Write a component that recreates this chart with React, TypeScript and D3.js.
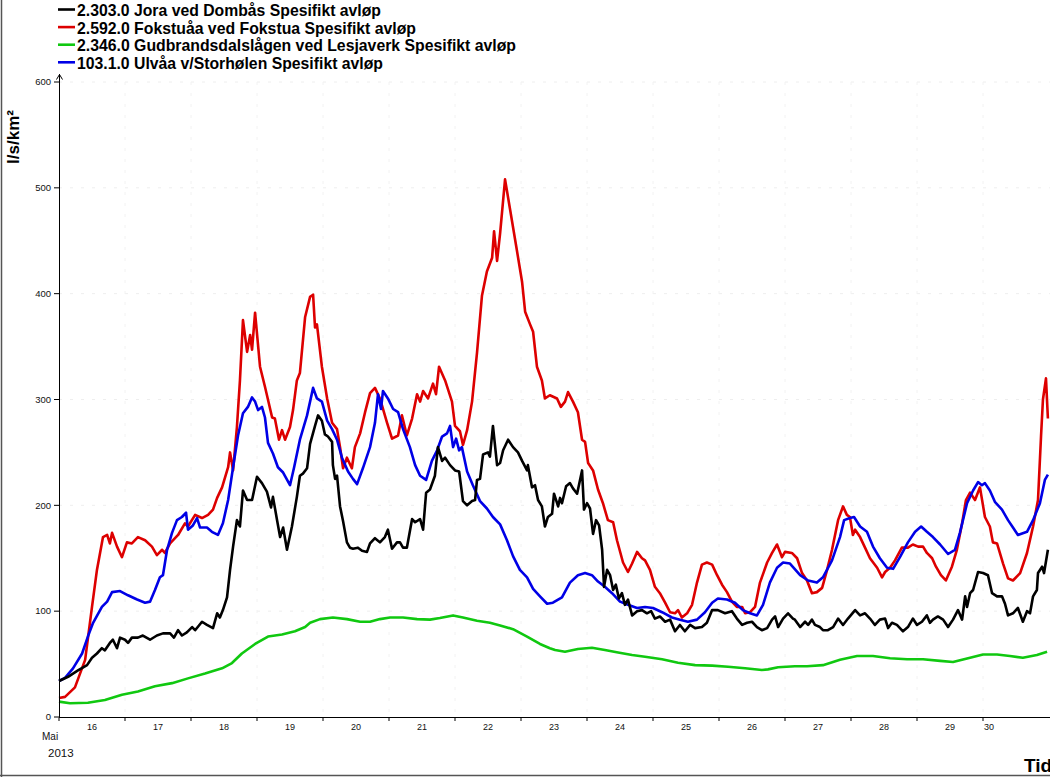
import React from "react";
import * as d3 from "d3";

// hours since 2013-05-16 00:00, value l/s/km²
const seriesNames = [
  "2.303.0 Jora ved Dombås Spesifikt avløp",
  "2.592.0 Fokstuåa ved Fokstua Spesifikt avløp",
  "2.346.0 Gudbrandsdalslågen ved Lesjaverk Spesifikt avløp",
  "103.1.0 Ulvåa v/Storhølen Spesifikt avløp",
];
const seriesColors = ["#000000", "#dd0000", "#10c810", "#0000e6"];

const jora: [number, number][] = [
  [0,34],[3.3,38],[6.9,44],[10.2,49],[12,56],[13.8,60],[15.6,65],[16.7,63],[18.5,70],[19.6,73],[21.1,65],[22.2,75],[24,73],[25.1,70],[26.5,75],[28.7,75],[30.5,77],[33.1,73],[35.6,77],[37.8,79],[40.4,79],[41.8,75],[43.3,82],[44.7,77],[46.5,80],[48.4,85],[49.5,82],[52,90],[53.8,87],[56,84],[57.5,98],[58.5,94],[59.6,101],[61.1,113],[62.2,139],[63.3,161],[64.7,186],[65.8,180],[66.9,214],[68.4,205],[70.2,205],[72,227],[73.8,221],[75.6,213],[77.1,198],[77.8,208],[79.3,186],[80.4,170],[81.5,179],[82.9,158],[84.7,180],[86.5,208],[87.6,228],[88.7,230],[90.2,235],[91.3,258],[93.1,275],[94.2,285],[95.6,280],[96.7,267],[97.8,265],[99.3,260],[99.6,238],[100.4,225],[101.1,228],[102.2,199],[103.3,185],[104.7,165],[105.8,160],[106.9,159],[108.7,160],[110.2,157],[112,156],[113.1,164],[114.9,169],[116.7,165],[118.5,170],[119.6,177],[121.1,159],[122.9,165],[124,165],[125.1,160],[126.5,160],[128.4,187],[129.5,184],[131.3,187],[132.4,177],[133.5,212],[134.9,215],[136.7,228],[137.8,255],[139.3,242],[140.4,245],[142.2,238],[144,233],[145.5,232],[146.9,204],[148.4,200],[150.2,204],[151.3,205],[152,224],[153.1,225],[154.2,248],[156,250],[156.7,246],[157.8,275],[159.3,238],[160.4,240],[161.5,252],[163.3,262],[165.1,255],[166.9,250],[168.4,242],[170.2,233],[170.5,238],[172,217],[173.1,219],[174.2,205],[175.6,199],[176.7,180],[177.8,189],[179.3,192],[180,211],[181.5,199],[182.2,207],[182.9,202],[184.4,218],[185.8,221],[186.9,216],[188.4,211],[190.2,233],[190.9,196],[192,202],[193.1,197],[194.2,173],[195.3,186],[196.4,181],[197.5,158],[198.2,123],[199.3,139],[200.4,134],[201.5,120],[202.5,125],[203.6,112],[204.7,117],[205.8,106],[206.9,111],[208.4,96],[210.2,100],[212,101],[213.8,98],[215.3,100],[216.7,93],[218.5,95],[220.4,90],[222.2,92],[224,81],[225.8,87],[227.6,81],[229.5,87],[231.3,84],[233.8,85],[235.6,89],[237.5,101],[239.6,101],[242.2,98],[244.7,100],[246.5,93],[248.4,87],[250.2,89],[252,90],[253.8,85],[255.6,82],[257.5,84],[259.3,92],[260.4,95],[261.5,85],[263.3,93],[265.1,98],[266.9,93],[267.6,92],[269.5,85],[271.3,90],[272.4,87],[273.8,92],[274.9,87],[276.7,85],[277.8,82],[279.6,82],[281.5,85],[283.3,93],[285.1,87],[286.9,93],[289.5,101],[291.3,96],[293.1,98],[294.9,93],[296.7,87],[298.5,92],[300.4,93],[301.5,84],[302.9,89],[304.7,87],[306.9,81],[308.7,85],[310.5,93],[312,87],[313.8,90],[315.6,96],[316.7,89],[317.8,92],[319.6,95],[321.5,92],[323.3,85],[325.1,92],[326.9,101],[328.4,92],[329.5,114],[330.2,104],[331.3,117],[332.4,120],[334.2,137],[336,136],[337.8,134],[339.3,117],[341.1,114],[342.9,114],[344,107],[345.1,96],[346.9,98],[348.7,103],[350.5,90],[352,100],[353.1,98],[354.2,114],[355.6,120],[356,136],[357.5,142],[358.2,136],[359.6,158],
];

const fokstua: [number, number][] = [
  [0,18],[2.2,19],[5.8,28],[9.5,54],[12,104],[13.8,139],[16,170],[17.5,172],[18.5,164],[19.3,174],[21.1,161],[22.9,151],[24.7,165],[26.5,164],[28.7,170],[31.3,167],[33.8,161],[35.6,153],[37.5,158],[38.5,155],[40.4,164],[43.3,172],[45.8,183],[46.9,180],[49.5,191],[52,188],[54.2,191],[56,196],[57.5,207],[59.3,217],[61.5,236],[62.2,250],[63.3,233],[64.7,274],[65.8,318],[66.9,375],[68.4,345],[69.5,361],[70.2,347],[71.3,382],[73.1,331],[74.9,312],[77.5,283],[78.5,282],[80,262],[81.1,271],[82.2,262],[84,274],[85.1,290],[86.5,318],[87.6,325],[89.5,378],[91.3,397],[92.4,399],[93.1,368],[93.8,371],[95.6,331],[97.5,301],[99.3,278],[101.1,272],[102.2,255],[103.3,235],[104.7,245],[106.5,235],[107.6,255],[109.5,268],[111.3,288],[113.1,306],[114.9,311],[116.7,301],[119.3,278],[121.1,263],[123.3,266],[124.7,285],[126.5,266],[128.4,282],[130.2,305],[131.3,298],[132.4,308],[134.2,301],[136,315],[137.1,305],[138.2,331],[140.4,318],[142.9,298],[144,275],[145.8,270],[146.9,257],[148.4,271],[150.2,298],[152,344],[153.8,398],[155.6,421],[157.5,434],[158.2,459],[159.3,431],[160.4,457],[162.2,508],[164,480],[166.5,441],[168.4,411],[169.5,383],[171.3,371],[172.4,364],[173.8,331],[175.6,318],[176.7,301],[178.5,304],[181.1,301],[182.5,293],[184,298],[185.1,307],[186.9,298],[188.7,288],[190.2,262],[191.3,260],[192.4,240],[194.2,233],[196,215],[197.8,202],[199.6,186],[201.5,184],[202.9,167],[205.1,146],[206.9,137],[208.4,145],[210.2,156],[212,150],[213.1,148],[214.9,139],[216.7,123],[218.5,117],[220.4,108],[222.2,99],[224,98],[225.1,101],[226.5,94],[228.4,98],[230.2,106],[232,127],[233.8,144],[235.6,146],[237.5,144],[239.3,134],[241.1,125],[242.9,118],[244.7,109],[246.5,104],[248.4,104],[249.5,98],[251.3,99],[253.1,104],[254.9,127],[257.5,146],[259.3,155],[261.1,163],[262.9,151],[264,156],[266.5,155],[268.4,150],[270.2,136],[272,129],[273.8,117],[275.6,118],[277.5,122],[279.3,139],[281.1,158],[283.3,186],[285.1,199],[286.5,191],[287.6,189],[288.7,172],[289.5,177],[291.3,170],[293.1,160],[294.9,150],[297.5,141],[299.3,132],[300.4,137],[302.2,141],[304,148],[306.5,160],[308.7,160],[310.5,163],[312.4,161],[314.2,161],[315.6,155],[317.5,150],[318.9,142],[320.7,134],[322.5,129],[324.7,142],[326.5,158],[328.4,183],[329.8,205],[331.3,212],[333.1,205],[334.9,217],[336.7,189],[338.5,180],[339.6,165],[341.1,164],[343.3,145],[345.1,131],[346.9,129],[349.5,136],[352,155],[354.2,180],[356,205],[357.1,265],[357.8,300],[358.9,320],[359.6,282],
];

const lesjaverk: [number, number][] = [
  [0,14.5],[4,13],[10.5,13.5],[16.7,16],[22.9,21],[28.7,24],[34.9,29],[41.1,32],[46.9,36.5],[53.1,41],[59.3,46],[62.9,51],[66.5,60],[71.3,69],[76,76],[81.1,78],[85.8,81],[89.5,85],[91.3,89],[94.9,92.5],[99.6,94],[104.7,92.5],[109.5,90],[113.1,90],[116.7,92.5],[120.4,94],[125.1,94],[130.2,92.5],[134.9,92],[138.5,93.5],[143.3,96],[146.9,94],[152,91],[156.7,89],[160.4,86.5],[165.1,83],[170.2,76],[174.9,69],[178.5,65],[180.4,63.3],[184,61.7],[188.7,64.3],[193.8,65.5],[198.5,63.3],[203.3,61],[208.4,58.6],[213.1,57],[219.3,54.5],[225.1,51.3],[231.3,49],[237.5,48.5],[243.3,47.5],[249.5,46],[255.6,44.4],[257.8,45],[261.5,47],[267.6,48],[272,48],[277.8,49],[284,54],[290.2,57.6],[296,57.6],[302.2,55.5],[308.4,54.5],[314.2,54.5],[320.4,53],[325.1,52],[331.3,56],[336,59],[341.1,59],[345.8,57.6],[350.5,56],[355.6,58.6],[359.3,61.7],
];

const ulvaa: [number, number][] = [
  [0,34],[2.2,37],[5.1,46],[8.4,60],[10.5,76],[12.4,89],[15.6,104],[17.5,109],[19.3,118],[22.2,119],[25.1,115],[28.4,111],[31.3,108],[33.1,109],[34.9,120],[36.7,132],[37.8,134],[39.3,158],[41.1,174],[42.9,186],[44.7,189],[46.2,193],[46.9,177],[48.7,181],[50.2,188],[51.3,179],[53.8,179],[55.6,175],[57.8,172],[59.6,183],[61.5,205],[63.3,236],[65.1,266],[66.9,287],[68.7,293],[70.2,302],[71.3,298],[72.4,290],[73.8,293],[74.9,283],[76,259],[77.8,249],[79.6,236],[81.5,231],[84,219],[85.5,236],[87.6,262],[90.2,285],[92.4,311],[93.8,301],[95.6,298],[97.5,280],[99.3,272],[101.1,262],[102.9,245],[105.1,232],[106.9,225],[108.4,220],[110.5,235],[113.1,255],[114.9,278],[116,305],[117.1,291],[117.8,308],[119.6,301],[121.5,291],[123.3,288],[125.1,272],[127.6,255],[129.5,238],[131.3,228],[133.5,224],[135.6,242],[137.5,252],[139.3,265],[141.1,268],[142.2,275],[143.3,255],[144.4,263],[145.5,252],[146.5,255],[148.4,232],[150.5,219],[153.1,204],[155.6,197],[157.8,189],[160.4,182],[162.9,167],[165.1,152],[167.6,139],[170.2,132],[172.4,121],[174.9,114],[177.5,107],[179.6,108],[182.9,113],[185.8,127],[188.7,134],[191.3,136],[193.8,134],[196,128],[198.5,123],[201.1,117],[204,109],[206.9,106],[210.2,103],[213.1,104],[216,103],[219.3,99],[222.9,94],[225.8,92],[228.7,90],[232,92],[234.9,99],[237.5,108],[239.6,112],[242.9,111],[245.8,108],[248.7,101],[251.3,98],[253.8,96],[256,106],[258.5,127],[261.1,141],[263.3,146],[265.8,145],[269.5,134],[272.4,129],[275.6,127],[277.8,132],[281.1,148],[284,170],[285.5,186],[287.6,188],[289.1,189],[291.3,180],[293.8,175],[296,161],[298.5,150],[301.1,141],[303.3,140],[305.8,151],[308.7,165],[311.3,175],[313.5,180],[315.6,175],[317.8,170],[320.4,163],[323.3,154],[325.8,158],[327.6,174],[330.2,202],[332.4,214],[334.2,222],[335.6,219],[336.7,221],[338.5,214],[340.4,203],[342.9,196],[345.1,186],[346.9,179],[348.7,172],[352,175],[354.2,186],[356.7,202],[358.5,224],[359.6,229],
];

const yTicks = [0, 100, 200, 300, 400, 500, 600];
const startDate = new Date(2013, 4, 16);
const endDate = new Date(2013, 4, 31);

const W = 1050;
const H = 777;
const font = "'Liberation Sans', Arial, Helvetica, sans-serif";

export default function App() {
  const x = d3.scaleTime().domain([startDate, endDate]).range([59, 1049]);
  const y = d3.scaleLinear().domain([0, 600]).range([717, 82]);
  const toDate = (h: number) => new Date(startDate.getTime() + h * 3600 * 1000);
  const line = d3
    .line<[number, number]>()
    .x((d) => x(toDate(d[0])))
    .y((d) => y(d[1]))
    .curve(d3.curveLinear);

  const days = d3.timeDay.range(startDate, endDate);
  const allSeries = [jora, fokstua, lesjaverk, ulvaa];
  const drawOrder = [2, 1, 3, 0];
  const legendWidths = [304, 339, 439, 306];

  return (
    <svg
      width={W}
      height={H}
      style={{ position: "absolute", left: 0, top: 0, background: "#fff" }}
      fontFamily={font}
    >
      <rect x={0} y={0} width={W} height={H} fill="#fff" />
      {/* faint grid */}
      {yTicks.slice(1).map((t) => (
        <line key={"gy" + t} x1={59} x2={W} y1={y(t)} y2={y(t)} stroke="#eeeeee" strokeWidth={1} strokeDasharray="3,8" />
      ))}
      {days.slice(1).map((d, i) => (
        <line key={"gx" + i} x1={x(d)} x2={x(d)} y1={82} y2={717} stroke="#f2f2f2" strokeWidth={1} strokeDasharray="3,8" />
      ))}

      {/* series */}
      {drawOrder.map((i) => (
        <path
          key={"s" + i}
          d={line(allSeries[i]) || ""}
          fill="none"
          stroke={seriesColors[i]}
          strokeWidth={2.6}
          strokeLinejoin="round"
        />
      ))}

      {/* y axis */}
      <line x1={59.5} x2={59.5} y1={74} y2={717} stroke="#000" strokeWidth={1} />
      <path d="M56.5,79.5 L59.5,74.5 L62.5,79.5" fill="none" stroke="#000" strokeWidth={1} />
      {yTicks.map((t) => (
        <g key={"yt" + t}>
          <line x1={54} x2={59.5} y1={y(t)} y2={y(t)} stroke="#000" strokeWidth={1} />
          <text x={51} y={y(t)} dy="0.35em" textAnchor="end" fontSize={9.5} fill="#111">
            {t}
          </text>
        </g>
      ))}
      <text
        transform="translate(19,137) rotate(-90)"
        textAnchor="middle"
        fontSize={17}
        fontWeight="bold"
        fill="#000"
      >
        l/s/km²
      </text>

      {/* x axis */}
      <line x1={59} x2={W} y1={717.5} y2={717.5} stroke="#000" strokeWidth={1} />
      {days.map((d, i) => (
        <line key={"xt" + i} x1={x(d)} x2={x(d)} y1={717.5} y2={721} stroke="#000" strokeWidth={1} />
      ))}
      {days.map((d, i) => {
        const last = i === days.length - 1;
        const px = last ? x(d) + 1 : x(d3.timeHour.offset(d, 12));
        return (
          <text key={"xl" + i} x={px} y={730} textAnchor={last ? "start" : "middle"} fontSize={9} fill="#111">
            {d.getDate()}
          </text>
        );
      })}
      <text x={42} y={740} fontSize={10} fill="#111">Mai</text>
      <text x={48} y={757} fontSize={11.5} fill="#111">2013</text>
      <text x={1024} y={772} fontSize={19} fontWeight="bold" fill="#000">Tid</text>

      {/* legend */}
      {seriesNames.map((n, i) => (
        <g key={"lg" + i}>
          <line x1={58} x2={75} y1={9.5 + i * 17.6} y2={9.5 + i * 17.6} stroke={seriesColors[i]} strokeWidth={2.6} />
          <text
            x={77}
            y={16 + i * 17.6}
            fontSize={17}
            fontWeight="bold"
            fill="#000"
            textLength={legendWidths[i]}
            lengthAdjust="spacingAndGlyphs"
          >
            {n}
          </text>
        </g>
      ))}

      {/* frame */}
      <line x1={1.5} x2={1.5} y1={0} y2={H} stroke="#555" strokeWidth={1.5} />
      <line x1={0} x2={W} y1={775.5} y2={775.5} stroke="#555" strokeWidth={1.5} />
    </svg>
  );
}
